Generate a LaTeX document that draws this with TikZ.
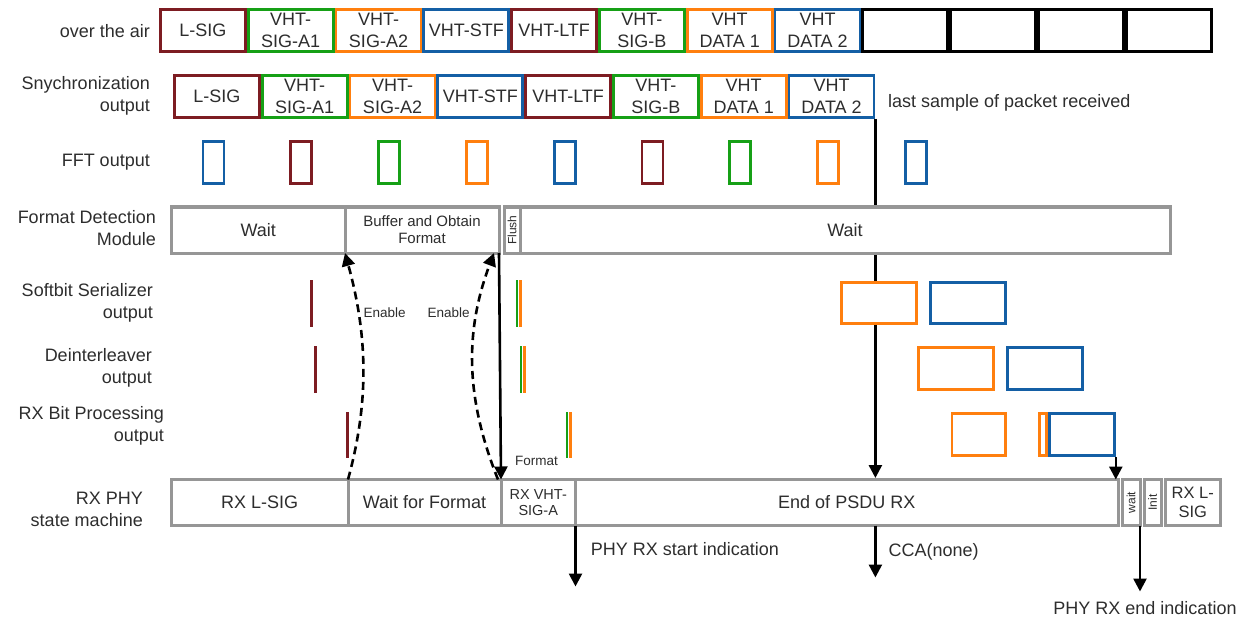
\documentclass[tikz,border=0pt]{standalone}
\usepackage{fontspec}
\usepackage{graphicx}
\setmainfont{Liberation Sans}
\usetikzlibrary{positioning, arrows.meta, backgrounds}

\definecolor{sigred}{RGB}{125,28,34}
\definecolor{siggreen}{RGB}{22,160,22}
\definecolor{sigorange}{RGB}{255,127,14}
\definecolor{sigblue}{RGB}{20,95,165}
\definecolor{stategray}{RGB}{150,150,150}
\definecolor{ink}{RGB}{45,45,45}

\begin{document}
\begin{tikzpicture}[x=1pt, y=-1pt,
  every node/.style={text=ink},
  fld/.style={draw, line width=2.8pt, fill=white, outer sep=1.4pt, inner sep=0pt, minimum width=85pt, minimum height=42pt, align=center, font=\fontsize{18}{22}\selectfont},
  fft/.style={draw, line width=2.8pt, outer sep=1.4pt, inner sep=0pt, minimum width=21pt, minimum height=42pt},
  blk/.style={draw, line width=2.8pt, fill=white, outer sep=1.4pt, inner sep=0pt},
  state/.style={draw=stategray, line width=3pt, fill=white, outer sep=0pt, inner sep=1pt, minimum height=46pt, align=center, font=\fontsize{18}{20}\selectfont},
  side/.style={anchor=east, align=right, inner sep=0pt, font=\fontsize{18}{22}\selectfont},
  note/.style={inner sep=0pt, font=\fontsize{18}{22}\selectfont},
  small/.style={inner sep=0pt, font=\fontsize{13.5}{16}\selectfont},
  arr/.style={line width=2.6pt, -{Triangle[width=13pt,length=13pt]}},
  sig/.style={line width=2.8pt}]
\useasboundingbox (0,0) rectangle (1243,623);

% row labels
\node[side] (lair) at (150,31) {over the air};
\node[side] (lsync) at (150,96) {Snychronization\\output};
\node[side] (lfft) at (150,162) {FFT output};
\node[side] (lfdm) at (156,228) {Format Detection\\Module};
\node[side] (lsb) at (153,303) {Softbit Serializer\\output};
\node[side] (ldi) at (152,368) {Deinterleaver\\output};
\node[side] (lrb) at (164,426) {RX Bit Processing\\output};
\node[side] (lrx) at (143,509) {RX PHY\\state machine};

% packet over the air
\node[fld, draw=sigred, anchor=north west] (a1) at (159,8) {L-SIG};
\node[fld, draw=siggreen, right=0pt of a1] (a2) {VHT-\\SIG-A1};
\node[fld, draw=sigorange, right=0pt of a2] (a3) {VHT-\\SIG-A2};
\node[fld, draw=sigblue, right=0pt of a3] (a4) {VHT-STF};
\node[fld, draw=sigred, right=0pt of a4] (a5) {VHT-LTF};
\node[fld, draw=siggreen, right=0pt of a5] (a6) {VHT-\\SIG-B};
\node[fld, draw=sigorange, right=0pt of a6] (a7) {VHT\\DATA 1};
\node[fld, draw=sigblue, right=0pt of a7] (a8) {VHT\\DATA 2};
\node[fld, draw=black, line width=3.2pt, right=0pt of a8] (a9) {};
\node[fld, draw=black, line width=3.2pt, right=0pt of a9] (a10) {};
\node[fld, draw=black, line width=3.2pt, right=0pt of a10] (a11) {};
\node[fld, draw=black, line width=3.2pt, right=0pt of a11] (a12) {};

% synchronization output
\node[fld, draw=sigred, anchor=north west] (s1) at (173,74) {L-SIG};
\node[fld, draw=siggreen, right=0pt of s1] (s2) {VHT-\\SIG-A1};
\node[fld, draw=sigorange, right=0pt of s2] (s3) {VHT-\\SIG-A2};
\node[fld, draw=sigblue, right=0pt of s3] (s4) {VHT-STF};
\node[fld, draw=sigred, right=0pt of s4] (s5) {VHT-LTF};
\node[fld, draw=siggreen, right=0pt of s5] (s6) {VHT-\\SIG-B};
\node[fld, draw=sigorange, right=0pt of s6] (s7) {VHT\\DATA 1};
\node[fld, draw=sigblue, right=0pt of s7] (s8) {VHT\\DATA 2};
\node[note, anchor=west] (last) at (888,103) {last sample of packet received};

% FFT output
\foreach \c [count=\i from 0] in {sigblue,sigred,siggreen,sigorange,sigblue,sigred,siggreen,sigorange,sigblue}
  \node[fft, draw=\c] (f\i) at (213.5+87.8*\i,162.5) {};

% format detection module
\node[state, minimum width=173.5pt, anchor=west] (fw1) at (171.5,230) {Wait};
\node[state, minimum width=154pt, right=0pt of fw1, font=\fontsize{15}{17}\selectfont] (buf) {Buffer and Obtain\\Format};
\node[state, minimum width=16pt, inner sep=0pt, right=5pt of buf, font=\fontsize{12}{12}\selectfont] (flush) {\rotatebox{90}{Flush}};
\node[state, minimum width=650pt, right=0pt of flush] (fw2) {Wait};

% serializer, deinterleaver and bit processing output
\draw[sig, sigred] (311.5,280) -- (311.5,327);
\draw[sig, sigred] (315.5,346) -- (315.5,393);
\draw[sig, sigred] (347.6,412) -- (347.6,458);
\foreach \x/\ya/\yb in {517/280/327, 521/346/393, 567/412/458} {
  \draw[sig, siggreen] (\x,\ya) -- (\x,\yb);
  \draw[sig, sigorange] (\x+3.4,\ya) -- (\x+3.4,\yb);
}
\node[blk, draw=sigorange, minimum width=75.2pt, minimum height=41.2pt] (sb1) at (879,303) {};
\node[blk, draw=sigblue, minimum width=74.8pt, minimum height=41.2pt, right=11pt of sb1] (sb2) {};
\node[blk, draw=sigorange, minimum width=75.2pt, minimum height=42.2pt] (di1) at (956,368.5) {};
\node[blk, draw=sigblue, minimum width=74.8pt, minimum height=42.2pt, right=11pt of di1] (di2) {};
\node[blk, draw=sigorange, minimum width=53.2pt, minimum height=42.2pt] (rb1) at (978.6,434.5) {};
\node[blk, draw=sigorange, minimum width=7.2pt, minimum height=42.2pt] (rb2) at (1043,434.5) {};
\node[blk, draw=sigblue, minimum width=65pt, minimum height=42.2pt, right=0pt of rb2] (rb3) {};

% RX PHY state machine
\node[state, minimum width=176.5pt, anchor=west] (rx1) at (171.5,502.5) {RX L-SIG};
\node[state, minimum width=153pt, right=0pt of rx1] (wff) {Wait for Format};
\node[state, minimum width=74.5pt, right=0pt of wff, font=\fontsize{14.5}{16}\selectfont] (vsa) {RX VHT-\\SIG-A};
\node[state, minimum width=542.5pt, right=0pt of vsa] (psdu) {End of PSDU RX};
\node[state, minimum width=18pt, inner sep=0pt, right=4pt of psdu, font=\fontsize{12}{12}\selectfont] (wt) {\rotatebox{90}{wait}};
\node[state, minimum width=17pt, inner sep=0pt, right=4pt of wt, font=\fontsize{12}{12}\selectfont] (ini) {\rotatebox{90}{Init}};
\node[state, minimum width=55.5pt, right=4pt of ini, font=\fontsize{16.5}{19}\selectfont] (rx2) {RX L-\\SIG};

% last sample runs down behind the boxes
\begin{scope}[on background layer]
\draw[arr] (s8.south east) -- ([yshift=1.5pt]s8.south east |- psdu.north);
\end{scope}

% enables and format
\draw[arr, dash pattern=on 8pt off 5pt] (rx1.north east) .. controls +(22,-80) and +(22,80) .. (fw1.south east)
  node[pos=0.74, right=4pt, small] {Enable};
\draw[arr, dash pattern=on 8pt off 5pt] ([xshift=-3pt]wff.north east) .. controls +(-32,-80) and +(-30,80) .. ([xshift=-5pt]buf.south east)
  node[pos=0.74, left=6pt, small] {Enable};
\draw[arr] (buf.south east) -- (wff.north east) node[pos=0.92, right=13pt, small] {Format};
\draw[arr] (rb3.south east) -- (rb3.south east |- psdu.north);

% indications
\coordinate[below=61pt of vsa.south east] (rxstart);
\coordinate (ccatop) at (s8.south east |- psdu.south);
\coordinate[below=52pt of ccatop] (cca);
\coordinate[below=66pt of wt.south east] (rxend);
\draw[arr] (vsa.south east) -- (rxstart) node[pos=0.38, right=14pt, note] {PHY RX start indication};
\draw[arr] (ccatop) -- (cca) node[pos=0.5, right=12pt, note] {CCA(none)};
\draw[arr] (wt.south east) -- (rxend) node[below=9pt, xshift=5pt, note] {PHY RX end indication};

\end{tikzpicture}
\end{document}
